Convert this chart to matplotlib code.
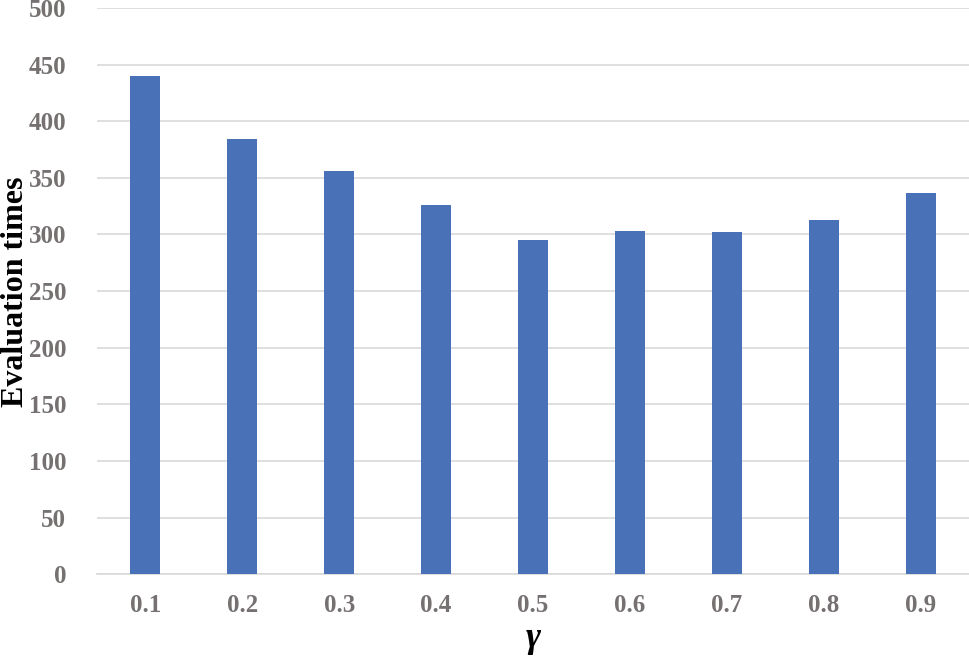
import matplotlib.pyplot as plt

gammas = ["0.1", "0.2", "0.3", "0.4", "0.5", "0.6", "0.7", "0.8", "0.9"]
evaluation_times = [440, 384, 356, 326, 295, 303, 302, 313, 337]
y_ticks = [0, 50, 100, 150, 200, 250, 300, 350, 400, 450, 500]

plt.rcParams["font.family"] = ["Liberation Serif", "DejaVu Serif"]

fig = plt.figure(figsize=(9.69, 6.63), dpi=100)
ax = fig.add_axes([0.1, 0.134, 0.9, 0.854])

x = range(len(gammas))
ax.bar(x, evaluation_times, width=0.31, color="#4971B8", zorder=3)

ax.set_xlim(-0.5, len(gammas) - 0.5)
ax.set_ylim(0, 500)
ax.set_yticks(y_ticks)
ax.set_xticks(list(x))
ax.set_xticklabels(gammas)
ax.grid(axis="y", color="#D9D9D9", linewidth=1.2, zorder=0)

for side in ["top", "right", "left"]:
    ax.spines[side].set_visible(False)
ax.spines["bottom"].set_color("#D9D9D9")
ax.spines["bottom"].set_linewidth(1.2)
ax.tick_params(length=0, labelsize=18, labelcolor="#767171")
ax.tick_params(axis="x", pad=14)
ax.tick_params(axis="y", pad=22)
for lbl in ax.get_xticklabels() + ax.get_yticklabels():
    lbl.set_fontweight("bold")

# y label sits right against the left edge in the original
fig.text(0.016, 0.56, "Evaluation times", rotation=90, fontsize=23,
         fontweight="bold", ha="center", va="center")
ax.set_xlabel("γ", fontsize=26, fontweight="bold", fontstyle="italic", labelpad=4)

fig.savefig("out.png", dpi=100)
